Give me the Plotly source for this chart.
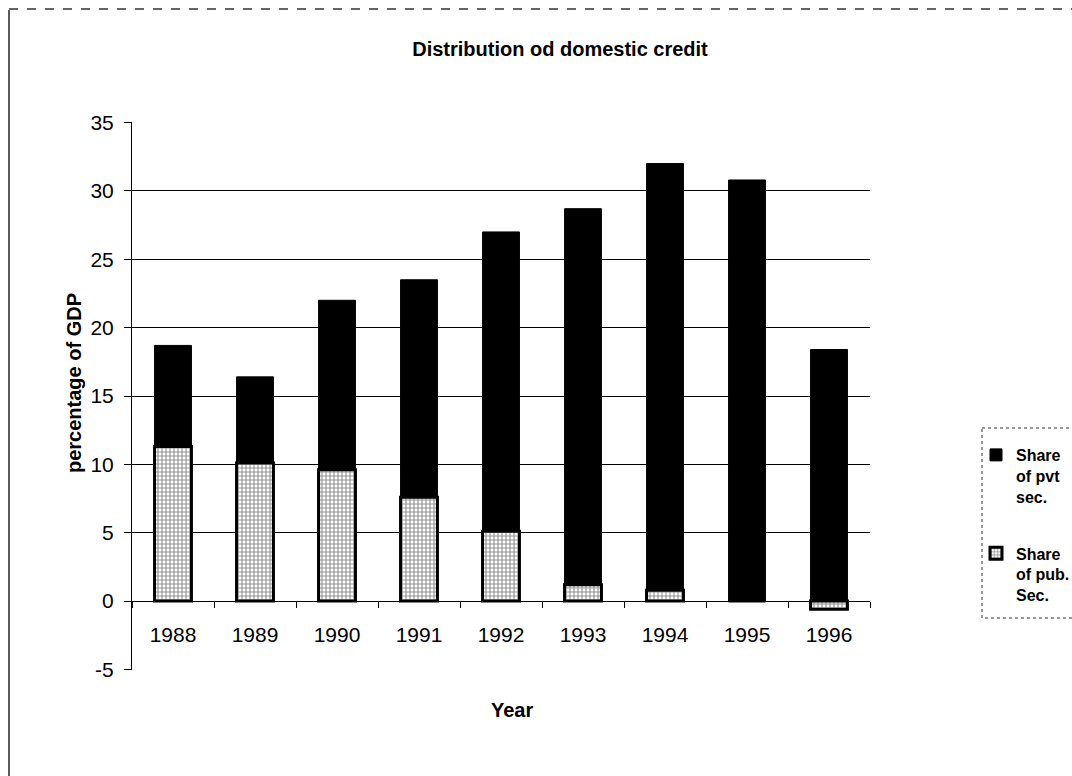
import plotly.graph_objects as go

# ---- data ----
years = ["1988", "1989", "1990", "1991", "1992", "1993", "1994", "1995", "1996"]
pub_share = [11.3, 10.1, 9.6, 7.6, 5.1, 1.2, 0.8, 0.0, -0.6]
pvt_share = [7.4, 6.3, 12.4, 15.9, 21.9, 27.5, 31.2, 30.8, 18.4]
y_ticks = [-5, 0, 5, 10, 15, 20, 25, 30, 35]
y_tick_text = ["-5", "0", "5", "10", "15", "20", "25", "30", "35"]

FONT = "Liberation Sans, Arial, sans-serif"

# plot-area geometry in pixels
W, H = 1072, 776
L, R, T, B = 132, 870, 122, 670


def px(xp):
    return (xp - L) / (R - L)


def py(yp):
    return (B - yp) / (B - T)


fig = go.Figure()
fig.add_bar(
    x=years, y=pub_share, name="Share<br>of pub.<br>Sec.", legendgroup="pub", legendrank=2,
    marker=dict(color="white", line=dict(color="black", width=3),
                pattern=dict(shape="+", size=4, solidity=0.5,
                             fgcolor="#2a2a2a", bgcolor="white", fillmode="overlay")),
)
fig.add_bar(
    x=years, y=pvt_share, name="Share<br>of pvt<br>sec.", legendgroup="pvt", legendrank=1,
    marker=dict(color="black", line=dict(color="black", width=1)),
)

pad = 0.04
y_lo, y_hi = y_ticks[0] - pad, y_ticks[-1] + pad
y0_paper = (0 - y_lo) / (y_hi - y_lo)

fig.update_layout(
    width=W, height=H,
    margin=dict(l=L, r=W - R, t=T, b=H - B, pad=0, autoexpand=False),
    paper_bgcolor="white", plot_bgcolor="white",
    barmode="relative", bargap=0.55,
    font=dict(family=FONT, color="black", size=21),
    title=dict(text="Distribution od domestic credit", x=px(560), xref="paper",
               xanchor="center", y=1 - 49 / H, yref="container", yanchor="middle",
               font=dict(family=FONT, size=20, weight="bold", color="black")),
    xaxis=dict(type="category", anchor="free", position=y0_paper,
               range=[-0.5, 8.5], showgrid=False, zeroline=False,
               showline=True, linecolor="black", linewidth=1,
               ticks="outside", tickson="boundaries", ticklen=6, tickcolor="black",
               tickfont=dict(size=21), ticklabelstandoff=15),
    yaxis=dict(range=[y_lo, y_hi], tickvals=y_ticks, ticktext=y_tick_text,
               showgrid=True, gridcolor="black", gridwidth=1, zeroline=False,
               showline=True, linecolor="black", linewidth=1,
               ticks="outside", ticklen=7, tickcolor="black",
               tickfont=dict(size=21), ticklabelstandoff=6),
    showlegend=True,
    legend=dict(x=px(976), y=py(438), xanchor="left", yanchor="top",
                xref="paper", yref="paper",
                traceorder="grouped", tracegroupgap=33, itemwidth=30,
                valign="top", bgcolor="rgba(0,0,0,0)",
                font=dict(family=FONT, size=16, weight="bold")),
    annotations=[
        dict(text="percentage of GDP", x=px(74), y=py(383), xref="paper", yref="paper",
             textangle=-90, showarrow=False, xanchor="center", yanchor="middle",
             font=dict(family=FONT, size=20, weight="bold")),
        dict(text="Year", x=px(512), y=py(710), xref="paper", yref="paper",
             showarrow=False, xanchor="center", yanchor="middle",
             font=dict(family=FONT, size=20, weight="bold")),
    ],
    shapes=[
        # outer chart frame (left and top edges visible)
        dict(type="line", xref="paper", yref="paper", x0=px(9), x1=px(9), y0=py(10), y1=py(776),
             line=dict(color="#222", width=1.5)),
        dict(type="line", xref="paper", yref="paper", x0=px(9), x1=px(1072), y0=py(9), y1=py(9),
             line=dict(color="#333", width=1.5, dash="dash")),
        # legend frame
        dict(type="rect", xref="paper", yref="paper", x0=px(982), x1=px(1085), y0=py(428), y1=py(618),
             line=dict(color="#333", width=1, dash="dot")),
    ],
)

fig.write_html("out.html")
